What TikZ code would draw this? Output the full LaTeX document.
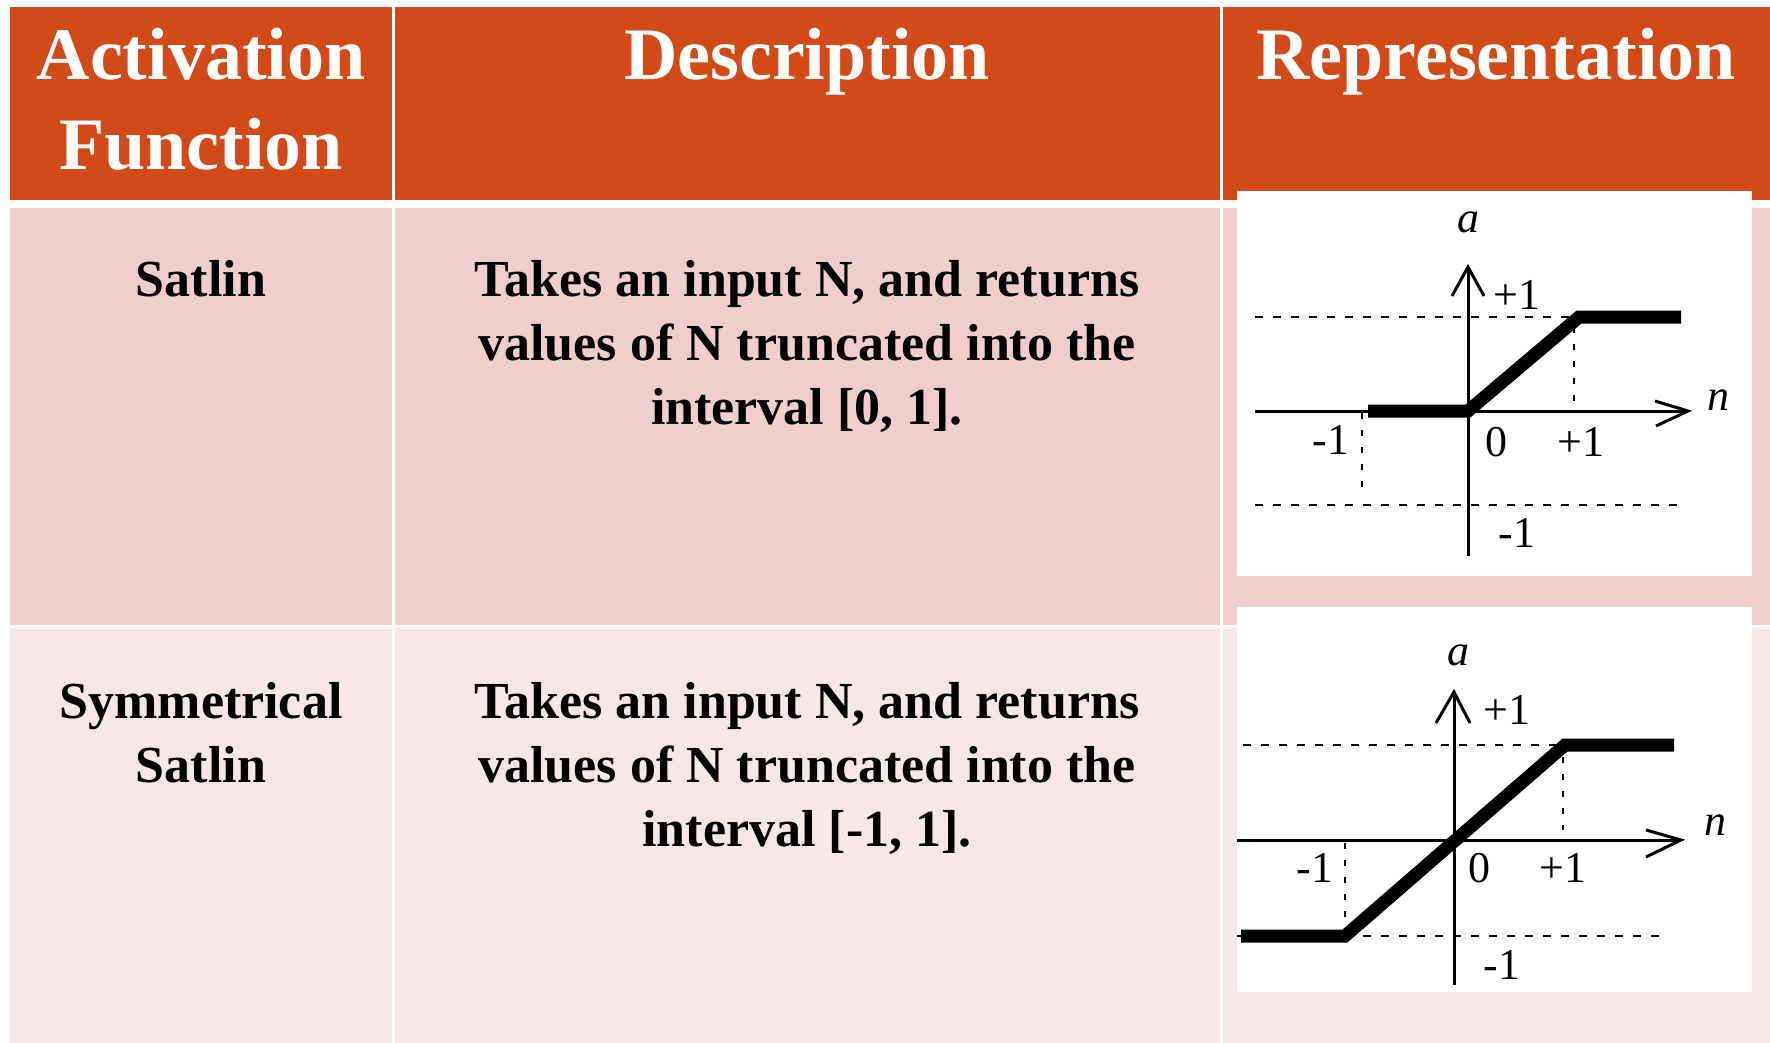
\documentclass[tikz,border=0pt]{standalone}
\usepackage{fontspec}
\setmainfont{Liberation Serif}
\definecolor{hdr}{RGB}{210,74,24}
\definecolor{rowA}{RGB}{239,206,204}
\definecolor{rowB}{RGB}{247,232,231}
\tikzset{
  hdrtext/.style={text=white, font=\fontsize{74}{90}\selectfont\bfseries, anchor=base, inner sep=0pt},
  bodytext/.style={text=black, font=\fontsize{52}{64}\selectfont\bfseries, anchor=base, inner sep=0pt},
  plotbox/.style={fill=white},
  axisline/.style={line width=3pt, black},
  tipline/.style={line width=3pt, black, line join=miter},
  curve/.style={line width=13pt, black, line join=miter},
  levelline/.style={line width=2.5pt, black, dash pattern=on 8pt off 10pt},
  guideline/.style={line width=2.5pt, black, dash pattern=on 6pt off 11pt},
  lbl/.style={font=\fontsize{44}{44}\selectfont, inner sep=0pt},
}
\begin{document}
\begin{tikzpicture}[x=1pt, y=-1pt]
\useasboundingbox (0,0) rectangle (1770,1043);

% ---- table cells ----
\fill[hdr]  (10,7)    rectangle (392,200);
\fill[hdr]  (395,7)   rectangle (1220,200);
\fill[hdr]  (1223,7)  rectangle (1770,200);
\fill[rowA] (10,208)  rectangle (392,625);
\fill[rowA] (395,208) rectangle (1220,625);
\fill[rowA] (1223,208) rectangle (1770,625);
\fill[rowB] (10,628)  rectangle (392,1043);
\fill[rowB] (395,628) rectangle (1220,1043);
\fill[rowB] (1223,628) rectangle (1770,1043);

% ---- header ----
\node[hdrtext] (hA1) at (201,80)  {Activation};
\node[hdrtext] (hA2) at (201,170) {Function};
\node[hdrtext] (hD)  at (807,80)  {Description};
\node[hdrtext] (hR)  at (1496,80) {Representation};

% ---- first row ----
\node[bodytext] (nA) at (201,296) {Satlin};
\node[bodytext] (dA1) at (807,296) {Takes an input N, and returns};
\node[bodytext] (dA2) at (807,360) {values of N truncated into the};
\node[bodytext] (dA3) at (807,424) {interval [0, 1].};

% ---- second row ----
\node[bodytext] (nB1) at (201,718) {Symmetrical};
\node[bodytext] (nB2) at (201,782) {Satlin};
\node[bodytext] (dB1) at (807,718) {Takes an input N, and returns};
\node[bodytext] (dB2) at (807,782) {values of N truncated into the};
\node[bodytext] (dB3) at (807,846) {interval [-1, 1].};

% ---- satlin plot ----
\fill[plotbox] (1237,191) rectangle (1752,576);
\draw[levelline] (1255,317) -- (1572,317);
\draw[levelline] (1255,505) -- (1681,505);
\draw[guideline] (1574,327) -- (1574,403);
\draw[guideline] (1362,413) -- (1362,497);
\draw[axisline] (1468,556) -- (1468,267);
\draw[tipline] (1452,296) -- (1468,267) -- (1484,296);
\draw[axisline] (1255,411) -- (1688,411);
\draw[tipline] (1655,401) -- (1688,411) -- (1656,426);
\draw[curve] (1368,411) -- (1468,411) -- (1579,317) -- (1681,317);
\node[lbl] (pAa)  at (1468,222) {\itshape a};
\node[lbl] (pAn)  at (1718,400) {\itshape n};
\node[lbl] (pAp1) at (1517,295) {+1};
\node[lbl] (pAm1) at (1331,440) {-1};
\node[lbl] (pA0)  at (1496,442) {0};
\node[lbl] (pAq1) at (1581,442) {+1};
\node[lbl] (pAr1) at (1517,533) {-1};

% ---- symmetric satlin plot ----
\fill[plotbox] (1237,607) rectangle (1752,992);
\draw[levelline] (1243,745) -- (1558,745);
\draw[levelline] (1237,936) -- (1660,936);
\draw[guideline] (1563,757) -- (1563,830);
\draw[guideline] (1345,843) -- (1345,925);
\draw[axisline] (1454,985) -- (1454,692);
\draw[tipline] (1436,723) -- (1454,692) -- (1470,723);
\draw[axisline] (1237,840) -- (1681,840);
\draw[tipline] (1646,830) -- (1681,840) -- (1646,857);
\draw[curve] (1241,936) -- (1345,936) -- (1565,745) -- (1674,745);
\node[lbl] (pBa)  at (1458,655) {\itshape a};
\node[lbl] (pBn)  at (1715,825) {\itshape n};
\node[lbl] (pBp1) at (1507,710) {+1};
\node[lbl] (pBm1) at (1315,868) {-1};
\node[lbl] (pB0)  at (1479,868) {0};
\node[lbl] (pBq1) at (1563,868) {+1};
\node[lbl] (pBr1) at (1502,965) {-1};
\end{tikzpicture}
\end{document}
